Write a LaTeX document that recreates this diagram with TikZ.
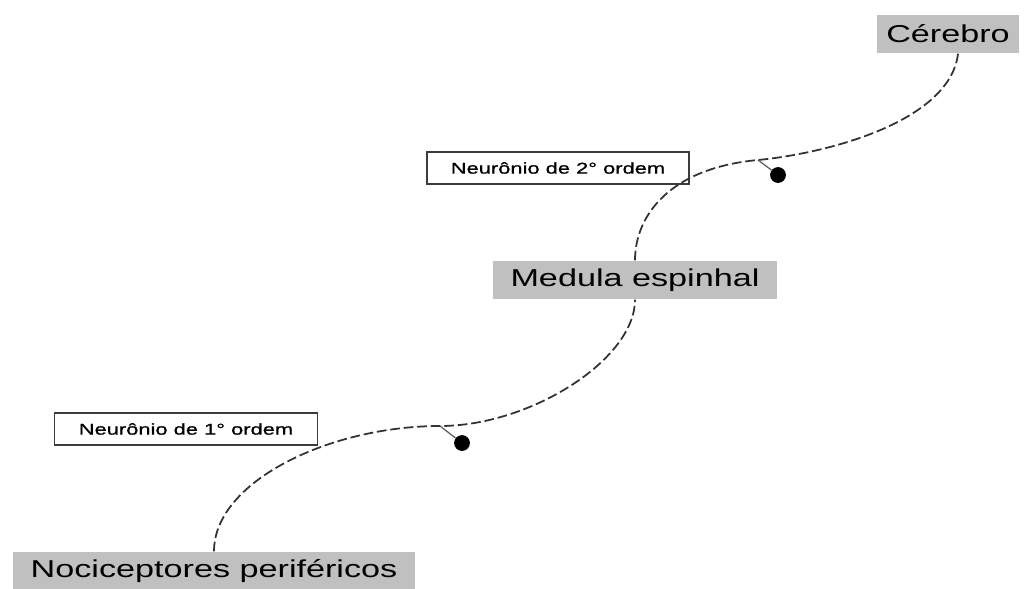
\documentclass[tikz,border=0pt]{standalone}
\usepackage{fontspec}
\usepackage{tikz}
\newfontfamily\wideSf[FakeStretch=1.4]{Liberation Sans}
\newfontfamily\wideSfB[FakeStretch=1.4, FakeBold=0.8]{Liberation Sans}
\definecolor{cRegion}{RGB}{192, 192, 192}
\definecolor{cNerve} {RGB}{ 50,  50,  50}
\definecolor{cFrame} {RGB}{ 60,  60,  60}
\tikzset{
  region/.style = {fill=cRegion, inner sep=0pt, minimum height=22pt,
                   font=\wideSf\fontsize{13.9}{16}\selectfont},
  label/.style  = {draw=cFrame, fill=white, line width=0.8pt, inner sep=0pt,
                   minimum height=18pt, font=\wideSfB\fontsize{8.9}{10}\selectfont},
  nerve/.style  = {cNerve, line width=1pt, dash pattern=on 5.5pt off 2.2pt},
  tick/.style   = {cNerve!80, line width=0.7pt},
  soma/.style   = {circle, fill=black, inner sep=0pt, minimum size=9pt},
}

\begin{document}
\begin{tikzpicture}[x=0.02cm, y=-0.02cm]
\useasboundingbox (0,0) rectangle (1026,588);

%% ─── Regions ───────────────────────────────────────────────
\node[region, minimum width=81pt]    (CER) at (948,34)  {Cérebro};
\node[region, minimum width=161.5pt] (MED) at (635,280) {Medula espinhal};
\node[region, minimum width=228.5pt] (NOC) at (214,571) {Nociceptores periféricos};

%% ─── Neuron labels ─────────────────────────────────────────
\node[label, minimum width=149pt] (N2) at (558,168) {Neurônio de 2° ordem};
\node[label, minimum width=150pt] (N1) at (186,429) {Neurônio de 1° ordem};

%% ─── Nerve paths ───────────────────────────────────────────
\coordinate (J1) at (440,426);
\coordinate (J2) at (758,160);

\draw[nerve] (NOC.north) .. controls +(0,-70) and +(-110,0) .. (J1)
                         .. controls +(90,0) and +(0,60) .. (MED.south);
\draw[nerve] (MED.north) .. controls +(0,-45) and +(-88,8) .. (J2)
                         .. controls +(72,-7) and +(-8,67) .. ([xshift=5.7pt]CER.south);

%% ─── Cell bodies ───────────────────────────────────────────
\node[soma] (S1) at (462,443) {};
\node[soma] (S2) at (778,175) {};
\draw[tick] (J1) -- (S1);
\draw[tick] (J2) -- (S2);

\end{tikzpicture}
\end{document}
